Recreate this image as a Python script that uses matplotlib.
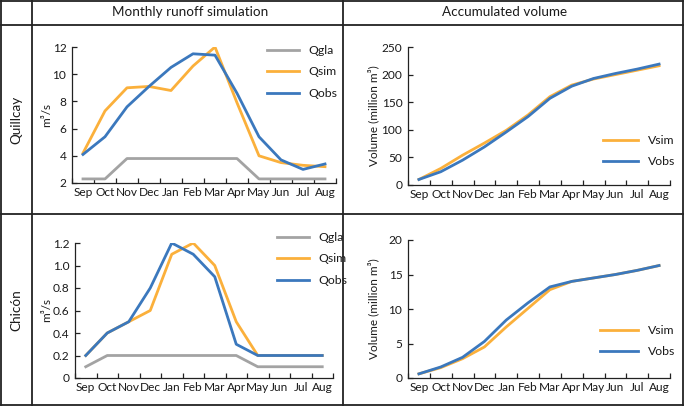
import matplotlib
matplotlib.use("Agg")
import matplotlib.pyplot as plt
from matplotlib.lines import Line2D

plt.rcParams['font.family'] = ['Lato', 'DejaVu Sans']

months = ["Sep", "Oct", "Nov", "Dec", "Jan", "Feb", "Mar", "Apr", "May", "Jun", "Jul", "Aug"]

# Quillcay
q_qgla = [2.3, 2.3, 3.8, 3.8, 3.8, 3.8, 3.8, 3.8, 2.3, 2.3, 2.3, 2.3]
q_qsim = [4.2, 7.3, 9.0, 9.1, 8.8, 10.6, 12.0, 7.9, 4.0, 3.5, 3.3, 3.2]
q_qobs = [4.1, 5.4, 7.6, 9.1, 10.5, 11.5, 11.4, 8.6, 5.4, 3.7, 3.0, 3.4]
q_vsim = [10, 30, 54, 76, 99, 127, 160, 181, 192, 200, 208, 216]
q_vobs = [10, 24, 45, 69, 96, 124, 157, 179, 193, 202, 210, 219]

# Chicón
c_qgla = [0.1, 0.2, 0.2, 0.2, 0.2, 0.2, 0.2, 0.2, 0.1, 0.1, 0.1, 0.1]
c_qsim = [0.2, 0.4, 0.5, 0.6, 1.1, 1.2, 1.0, 0.5, 0.2, 0.2, 0.2, 0.2]
c_qobs = [0.2, 0.4, 0.5, 0.8, 1.2, 1.1, 0.9, 0.3, 0.2, 0.2, 0.2, 0.2]
c_vsim = [0.6, 1.5, 2.8, 4.5, 7.4, 10.1, 12.8, 14.0, 14.5, 15.0, 15.6, 16.3]
c_vobs = [0.6, 1.6, 3.0, 5.3, 8.4, 10.9, 13.2, 14.0, 14.5, 15.0, 15.6, 16.3]

GREY = "#a3a3a3"
ORANGE = "#fbb03b"
BLUE = "#3b78bd"
TXT = "#1a1a1a"
LW = 2.0
TICK_FS = 8.6
LEG_FS = 8.8
LAB_FS = 8.5
HEAD_FS = 9.7

W, H = 685, 408
fig = plt.figure(figsize=(W / 100, H / 100), dpi=100)


def fx(px):
    return px / W


def fy(py):
    return 1 - py / H


def ax_rect(l, r, t, b):
    return [fx(l), fy(b), fx(r) - fx(l), fy(t) - fy(b)]


# table grid
lkw = dict(color="#222222", lw=1.3, transform=fig.transFigure)
for (x0, y0, x1, y1) in [
    (0.7, 0.7, 683, 0.7), (0.7, 405, 683, 405), (0.7, 0.7, 0.7, 405), (683, 0.7, 683, 405),
    (32, 0.7, 32, 405), (343, 0.7, 343, 405), (0.7, 25, 683, 25), (0.7, 214, 683, 214),
]:
    fig.add_artist(Line2D([fx(x0), fx(x1)], [fy(y0), fy(y1)], **lkw))

fig.text(fx(190), fy(12.5), "Monthly runoff simulation", ha="center", va="center", fontsize=HEAD_FS, color=TXT)
fig.text(fx(505), fy(12.5), "Accumulated volume", ha="center", va="center", fontsize=HEAD_FS, color=TXT)
fig.text(fx(16), fy(120), "Quillcay", ha="center", va="center", rotation=90, fontsize=HEAD_FS, color=TXT)
fig.text(fx(16), fy(310), "Chicón", ha="center", va="center", rotation=90, fontsize=HEAD_FS, color=TXT)


def style(ax, ylim, yticks, yticklabels, ylabel, label_x):
    x = list(range(len(months)))
    ax.set_xlim(-0.5, len(months) - 0.5)
    ax.set_xticks([i - 0.5 for i in range(len(months) + 1)])
    ax.set_xticklabels([])
    ax.set_xticks(x, minor=True)
    ax.set_xticklabels(months, minor=True)
    ax.tick_params(axis="x", which="major", direction="in", length=3.5, width=0.9, colors="#222222")
    ax.tick_params(axis="x", which="minor", length=0, labelsize=TICK_FS, labelcolor=TXT, pad=3)
    ax.set_ylim(*ylim)
    ax.set_yticks(yticks)
    ax.set_yticklabels(yticklabels)
    ax.tick_params(axis="y", direction="in", length=3.5, width=0.9, labelsize=TICK_FS,
                   colors="#222222", labelcolor=TXT, pad=4)
    for s in ["top", "right"]:
        ax.spines[s].set_visible(False)
    for s in ["left", "bottom"]:
        ax.spines[s].set_linewidth(0.9)
        ax.spines[s].set_color("#222222")
    ax.set_ylabel(ylabel, fontsize=LAB_FS, color=TXT)
    ax.yaxis.set_label_coords(label_x, 0.5)
    ax.set_facecolor("none")


def legend(ax, px, py, hl):
    ax.legend(loc="upper left", bbox_to_anchor=(fx(px), fy(py)), bbox_transform=fig.transFigure,
              frameon=False, fontsize=LEG_FS, handlelength=hl, handletextpad=0.8, labelspacing=0.85,
              borderpad=0, borderaxespad=0, labelcolor=TXT)


x = list(range(len(months)))

# Top-left
ax1 = fig.add_axes(ax_rect(72, 336, 47, 183))
ax1.plot(x, q_qgla, color=GREY, lw=LW, label="Qgla")
ax1.plot(x, q_qsim, color=ORANGE, lw=LW, label="Qsim")
ax1.plot(x, q_qobs, color=BLUE, lw=LW, label="Qobs")
style(ax1, (2, 12), [2, 4, 6, 8, 10, 12], ["2", "4", "6", "8", "10", "12"], "m³/s", -0.075)
legend(ax1, 267, 45, 2.6)

# Top-right
ax2 = fig.add_axes(ax_rect(408, 670, 47, 185))
ax2.plot(x, q_vsim, color=ORANGE, lw=LW, label="Vsim")
ax2.plot(x, q_vobs, color=BLUE, lw=LW, label="Vobs")
style(ax2, (0, 250), [0, 50, 100, 150, 200, 250], ["0", "50", "100", "150", "200", "250"],
      "Volume (million m³)", -0.11)
legend(ax2, 603, 135, 2.9)

# Bottom-left
ax3 = fig.add_axes(ax_rect(75, 333, 243, 378))
ax3.plot(x, c_qgla, color=GREY, lw=LW, label="Qgla")
ax3.plot(x, c_qsim, color=ORANGE, lw=LW, label="Qsim")
ax3.plot(x, c_qobs, color=BLUE, lw=LW, label="Qobs")
style(ax3, (0, 1.2), [0, 0.2, 0.4, 0.6, 0.8, 1.0, 1.2], ["0", "0.2", "0.4", "0.6", "0.8", "1.0", "1.2"],
      "m³/s", -0.09)
legend(ax3, 277, 232, 2.6)

# Bottom-right
ax4 = fig.add_axes(ax_rect(408, 670, 240, 378))
ax4.plot(x, c_vsim, color=ORANGE, lw=LW, label="Vsim")
ax4.plot(x, c_vobs, color=BLUE, lw=LW, label="Vobs")
style(ax4, (0, 20), [0, 5, 10, 15, 20], ["0", "5", "10", "15", "20"], "Volume (million m³)", -0.11)
legend(ax4, 600, 325, 3.1)

fig.savefig("out.png", dpi=100)
